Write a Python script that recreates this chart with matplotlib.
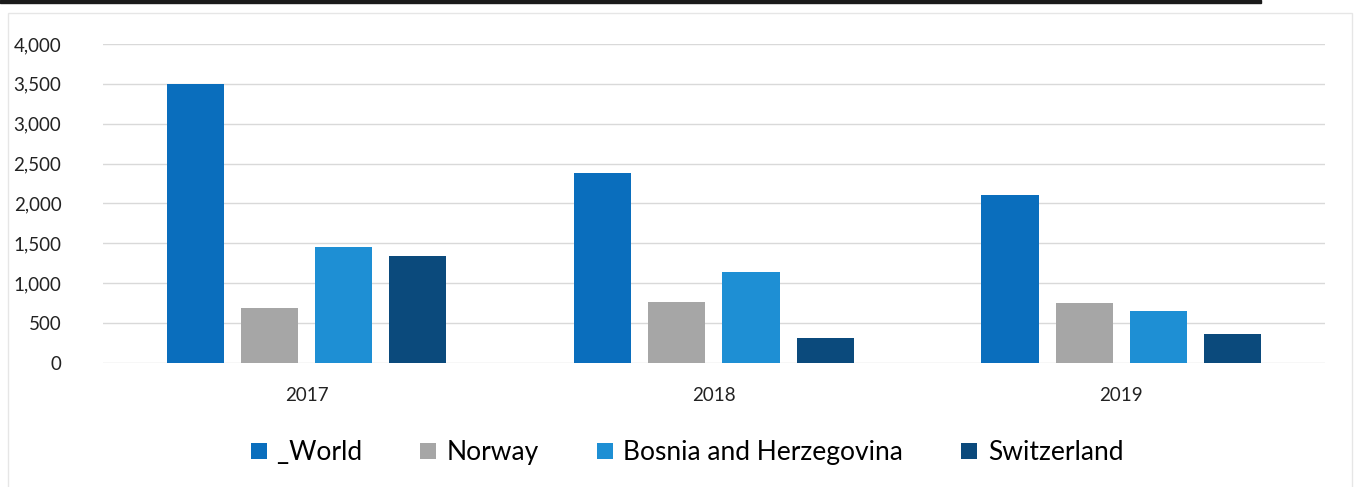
import numpy as np
import matplotlib.pyplot as plt
from matplotlib.patches import Rectangle
from matplotlib.ticker import FuncFormatter

plt.rcParams['font.family'] = ['Lato', 'DejaVu Sans']

years = ['2017', '2018', '2019']
world = [3500, 2380, 2105]
norway = [690, 765, 752]
bosnia = [1455, 1140, 650]
switzerland = [1342, 314, 364]

series = ['_World', 'Norway', 'Bosnia and Herzegovina', 'Switzerland']
colors = ['#0A6EBD', '#A6A6A6', '#1E8FD4', '#0B4A7C']

fig = plt.figure(figsize=(13.56, 4.87), dpi=100)
ax = fig.add_axes([0.076, 0.2546, 0.901, 0.6551])

# scan artefacts: dark band on top and faint chart frame
fig.patches.append(Rectangle((0, 0.993), 0.93, 0.007, transform=fig.transFigure,
                             color='#1a1a1a', zorder=0))
fig.patches.append(Rectangle((0.006, -0.01), 0.991, 0.983, transform=fig.transFigure,
                             fill=False, edgecolor='#e6e6e6', lw=1, zorder=0))

x = np.arange(len(years))
step = 0.182
width = 0.14
for i, (vals, name, c) in enumerate(zip([world, norway, bosnia, switzerland], series, colors)):
    # a leading underscore would hide the legend entry, so prefix a zero-width space
    lab = '\u200b' + name if name.startswith('_') else name
    ax.bar(x + (i - 1.5) * step, vals, width, color=c, label=lab, zorder=3)

ax.set_xlim(-0.5, 2.5)
ax.set_ylim(0, 4000)
ax.set_yticks(range(0, 4001, 500))
ax.yaxis.set_major_formatter(FuncFormatter(lambda v, p: f'{int(v):,}'))
ax.set_xticks(x)
ax.set_xticklabels(years)
ax.grid(axis='y', color='#d9d9d9', lw=1, zorder=0)
for s in ax.spines.values():
    s.set_visible(False)
ax.tick_params(length=0, labelsize=13.5, colors='#222222')
ax.tick_params(axis='x', pad=17)
ax.tick_params(axis='y', pad=30)

ax.legend(loc='upper center', bbox_to_anchor=(0.478, -0.168), ncol=4, frameon=False,
          fontsize=19, handlelength=0.6, handleheight=0.6, handletextpad=0.4,
          columnspacing=2.2)

fig.savefig('out.png', dpi=100)
